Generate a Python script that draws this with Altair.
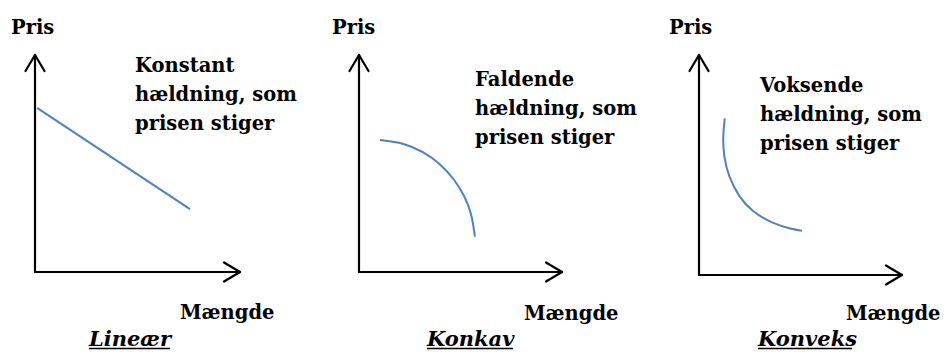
import altair as alt
import pandas as pd

# ---------------- data (axis units: arrow tips = 100) ----
panel_names = ["Lineær", "Konkav", "Konveks"]
descriptions = [
    "Konstant\nhældning, som\nprisen stiger",
    "Faldende\nhældning, som\nprisen stiger",
    "Voksende\nhældning, som\nprisen stiger",
]
y_label = "Pris"
x_label = "Mængde"
axis_len = 100

lin_x = [1.0, 75.6]
lin_y = [75.6, 29.0]

konkav_x = [10.3, 21.8, 31.7, 39.9, 47.3, 52.2, 55.5, 57.1]
konkav_y = [60.8, 59.6, 55.4, 50.1, 42.4, 34.7, 27.0, 16.3]

konveks_x = [12.7, 11.7, 12.2, 14.6, 19.6, 26.1, 36.0, 45.8, 50.7]
konveks_y = [71.2, 62.9, 53.8, 44.7, 35.6, 28.8, 23.5, 20.8, 20.1]

curves_x = [lin_x, konkav_x, konveks_x]
curves_y = [lin_y, konkav_y, konveks_y]

# ---------------- layout (pixels, page coordinates) ----------------
LEFT, TOP, W, H = 8, 8, 933, 343
panels_layout = [
    # origin x, origin y, x-arrow tip, y-arrow tip
    dict(ox=35, oy=272, tx=240, ty=55),
    dict(ox=359, oy=272, tx=562, ty=55),
    dict(ox=699, oy=275, tx=902, ty=55),
]
label_pos = [
    # Pris, description, Mængde, title (left x, baseline y), title right x
    dict(pris=(11, 34), desc=(135, 72), mg=(180, 319), title=(89, 346), tr=170),
    dict(pris=(332, 34), desc=(475, 86), mg=(524, 320), title=(427, 346), tr=513),
    dict(pris=(669, 34), desc=(760, 92), mg=(846, 320), title=(758, 346), tr=852),
]

FONT = "DejaVu Serif"
FS = 19.5
FS_TITLE = 21
BLUE = "#4F81BD"
AXW = 2.2
one = pd.DataFrame({"k": [0]})


def panel_layers(i):
    lay = panels_layout[i]
    lp = label_pos[i]
    kx = (lay["tx"] - lay["ox"]) / axis_len
    ky = (lay["oy"] - lay["ty"]) / axis_len
    xdom = [(LEFT - lay["ox"]) / kx, (LEFT + W - lay["ox"]) / kx]
    ydom = [-(TOP + H - lay["oy"]) / ky, (lay["oy"] - TOP) / ky]
    xs = alt.Scale(domain=xdom, nice=False, zero=False)
    ys = alt.Scale(domain=ydom, nice=False, zero=False)

    a, b = 9.5 / kx, 16 / ky
    c, d = 16 / kx, 9.5 / ky
    seg = pd.DataFrame({
        "x": [0, 0, 0, 0, axis_len, axis_len],
        "y": [0, 0, axis_len, axis_len, 0, 0],
        "x2": [0, axis_len, -a, a, axis_len - c, axis_len - c],
        "y2": [axis_len, 0, axis_len - b, axis_len - b, d, -d],
    })
    axes = alt.Chart(seg).mark_rule(color="black", strokeWidth=AXW, strokeCap="round").encode(
        x=alt.X("x:Q", scale=xs, axis=None),
        y=alt.Y("y:Q", scale=ys, axis=None),
        x2="x2:Q",
        y2="y2:Q",
    )

    cdf = pd.DataFrame({"x": curves_x[i], "y": curves_y[i], "o": list(range(len(curves_x[i])))})
    curve = alt.Chart(cdf).mark_line(
        color=BLUE, strokeWidth=2, interpolate="basis"
    ).encode(
        x=alt.X("x:Q", scale=xs, axis=None),
        y=alt.Y("y:Q", scale=ys, axis=None),
        order="o:Q",
    )

    base_txt = dict(align="left", baseline="alphabetic", font=FONT, fontWeight="bold",
                    fontSize=FS, color="black")
    pris = alt.Chart(one).mark_text(**base_txt).encode(
        x=alt.value(lp["pris"][0] - LEFT), y=alt.value(lp["pris"][1] - TOP),
        text=alt.value(y_label))
    mg = alt.Chart(one).mark_text(**base_txt).encode(
        x=alt.value(lp["mg"][0] - LEFT), y=alt.value(lp["mg"][1] - TOP),
        text=alt.value(x_label))
    desc = alt.Chart(one).mark_text(lineBreak="\n", lineHeight=29, **base_txt).encode(
        x=alt.value(lp["desc"][0] - LEFT), y=alt.value(lp["desc"][1] - TOP),
        text=alt.value(descriptions[i]))
    title = alt.Chart(one).mark_text(
        align="left", baseline="alphabetic", font=FONT, fontWeight="bold",
        fontStyle="italic", fontSize=FS_TITLE, color="black"
    ).encode(
        x=alt.value(lp["title"][0] - LEFT), y=alt.value(lp["title"][1] - TOP),
        text=alt.value(panel_names[i]))
    underline = alt.Chart(one).mark_rule(color="black", strokeWidth=1.6).encode(
        x=alt.value(lp["title"][0] - LEFT), x2=alt.value(lp["tr"] - LEFT),
        y=alt.value(lp["title"][1] - TOP + 2.5))

    return [axes, curve, pris, mg, desc, title, underline]


layers = panel_layers(0) + panel_layers(1) + panel_layers(2)

chart = alt.layer(*layers).resolve_scale(x="independent", y="independent").properties(
    width=W, height=H, padding=0,
    autosize=alt.AutoSizeParams(type="none"), background="white"
).configure_view(stroke=None)

chart.save("out.html", embed_options={"renderer": "svg", "actions": False})
